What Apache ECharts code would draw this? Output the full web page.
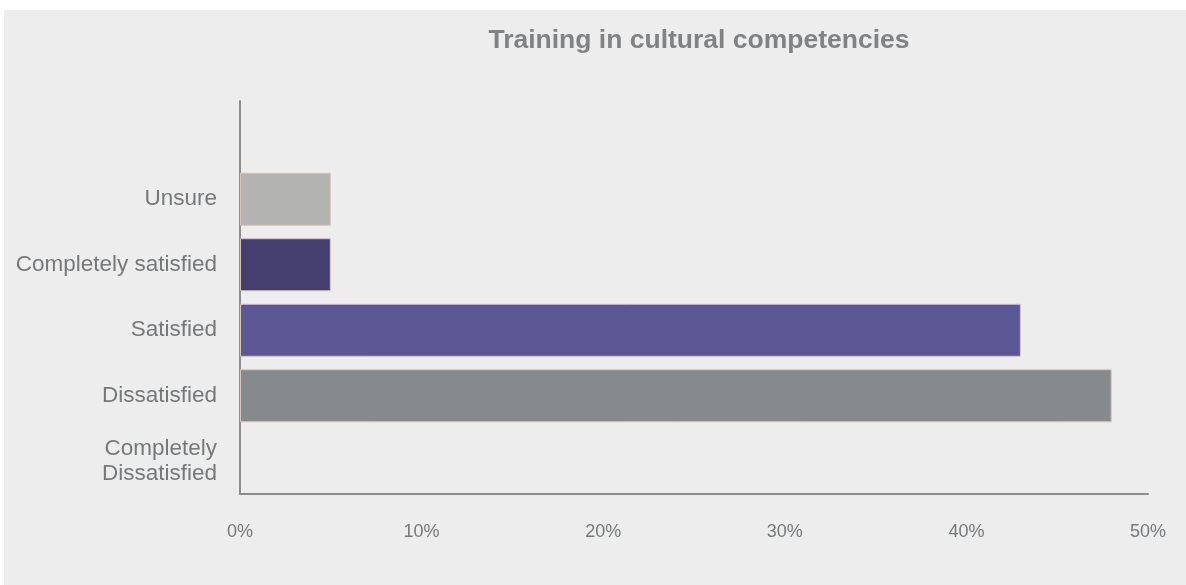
<!DOCTYPE html>
<html>
<head>
<meta charset="utf-8">
<title>Training in cultural competencies</title>
<script src="https://cdn.jsdelivr.net/npm/echarts@6/dist/echarts.min.js"></script>
<style>
  html, body { margin: 0; padding: 0; background: #ffffff; }
  #panel { position: absolute; left: 4px; top: 10px; width: 1182px; height: 575px; background: #ededed; }
  #chart { position: absolute; left: 0; top: 0; width: 1186px; height: 585px; }
</style>
</head>
<body>
<div id="panel"></div>
<div id="chart"></div>
<script>
// Response categories, listed bottom to top (the top slot is left blank)
const categories = ['Completely\nDissatisfied', 'Dissatisfied', 'Satisfied', 'Completely satisfied', 'Unsure', ''];
// Share of respondents, percent
const values = [0, 48, 43, 5, 5, null];
const barColors = ['#878a8c', '#878a8c', '#5b5794', '#453f6e', '#b3b3b1', '#b3b3b1'];
const xTicks = { min: 0, max: 50, interval: 10 };

const textColor = '#76787a';
const fontFamily = '"Liberation Sans", Arial, Helvetica, sans-serif';

const chart = echarts.init(document.getElementById('chart'), null, { renderer: 'canvas' });
chart.setOption({
  backgroundColor: 'transparent',
  animation: false,
  title: {
    text: 'Training in cultural competencies',
    left: 694,
    top: 22,
    textAlign: 'center',
    textStyle: { fontFamily, fontSize: 26.5, fontWeight: 'bold', color: '#808284' }
  },
  grid: { left: 240, right: 38, top: 101, bottom: 91, containLabel: false },
  xAxis: {
    type: 'value',
    min: xTicks.min,
    max: xTicks.max,
    interval: xTicks.interval,
    axisLine: { show: true, lineStyle: { color: '#8a8c8d', width: 2 } },
    axisTick: { show: false },
    splitLine: { show: false },
    axisLabel: {
      formatter: '{value}%',
      margin: 29,
      fontFamily, fontSize: 18, color: textColor
    }
  },
  yAxis: {
    type: 'category',
    data: categories,
    axisLine: { show: true, lineStyle: { color: '#8a8c8d', width: 2 } },
    axisTick: { show: false },
    splitLine: { show: false },
    axisLabel: {
      margin: 23,
      fontFamily, fontSize: 22.5, lineHeight: 25, color: textColor, align: 'right',
      padding: [3, 0, 0, 0]
    }
  },
  series: [{
    type: 'bar',
    barCategoryGap: '19%',
    data: values.map((v, i) => ({
      value: v,
      itemStyle: {
        color: barColors[i],
        borderColor: '#d8c4bc',
        borderWidth: v ? 1 : 0
      }
    }))
  }]
});
</script>
</body>
</html>
